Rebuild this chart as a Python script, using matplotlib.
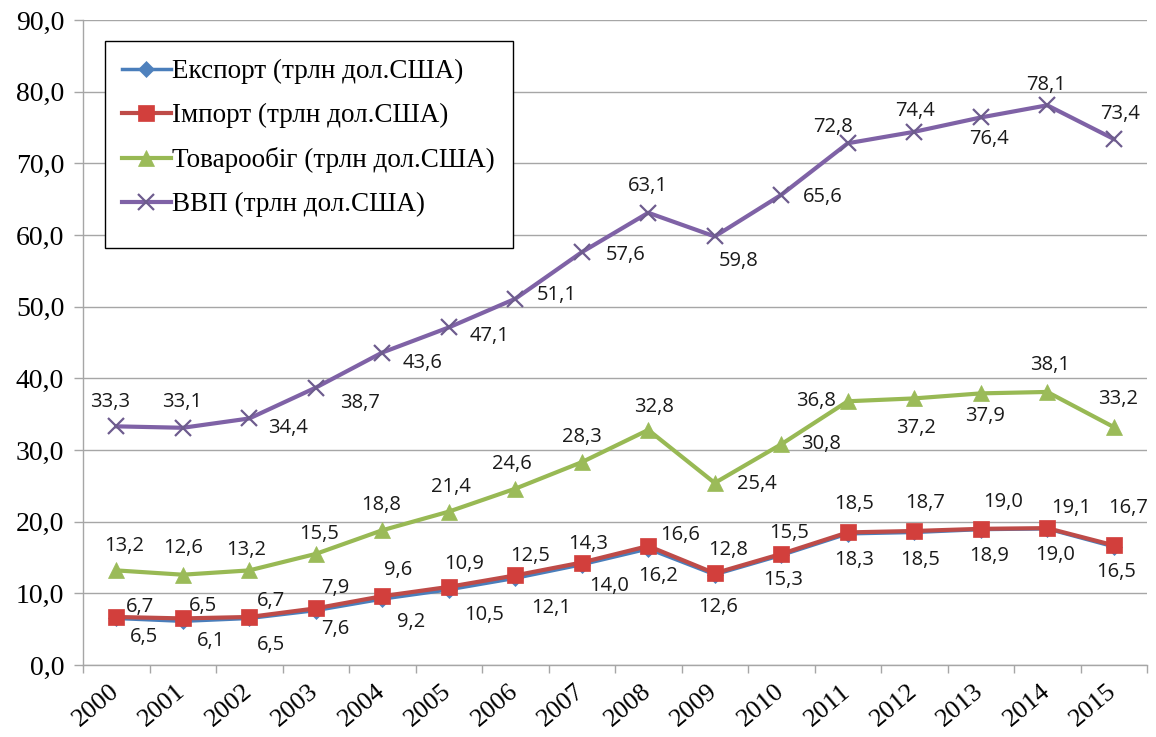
import matplotlib

matplotlib.use("Agg")

import matplotlib.pyplot as plt
from matplotlib.patches import Rectangle
from matplotlib.ticker import FuncFormatter, FixedLocator


YEARS = [str(y) for y in range(2000, 2016)]
EXPORT = [6.5, 6.1, 6.5, 7.6, 9.2, 10.5, 12.1, 14.0, 16.2, 12.6, 15.3, 18.3, 18.5, 18.9, 19.0, 16.5]
IMPORT = [6.7, 6.5, 6.7, 7.9, 9.6, 10.9, 12.5, 14.3, 16.6, 12.8, 15.5, 18.5, 18.7, 19.0, 19.1, 16.7]
TURNOVER = [13.2, 12.6, 13.2, 15.5, 18.8, 21.4, 24.6, 28.3, 32.8, 25.4, 30.8, 36.8, 37.2, 37.9, 38.1, 33.2]
GDP = [33.3, 33.1, 34.4, 38.7, 43.6, 47.1, 51.1, 57.6, 63.1, 59.8, 65.6, 72.8, 74.4, 76.4, 78.1, 73.4]

NAMES = [
    "Експорт (трлн дол.США)",
    "Імпорт (трлн дол.США)",
    "Товарообіг (трлн дол.США)",
    "ВВП (трлн дол.США)",
]

# data label offsets in pixels (dx right, dy down), as in the reference
EXPORT_OFF = [(28, 19), (28, 20), (22, 27), (20, 18), (29, 23), (35, 25), (36, 30), (27, 21),
              (10, 27), (3, 32), (2, 25), (6, 26), (6, 28), (8, 26), (8, 26), (2, 25)]
IMPORT_OFF = [(24, -10), (20, -12), (22, -16), (20, -20), (16, -26), (15, -23), (15, -19), (6, -19),
              (32, -11), (13, -23), (8, -21), (6, -28), (11, -28), (22, -27), (24, -20), (14, -37)]
TURNOVER_OFF = [(8, -24), (0, -27), (-3, -20), (3, -20), (-1, -25), (2, -25), (-3, -25), (0, -25),
                (6, -23), (42, 1), (40, 0), (-32, 0), (2, 30), (4, 23), (3, -27), (4, -28)]
GDP_OFF = [(-6, -24), (-1, -26), (39, 10), (44, 15), (40, 10), (41, 9), (42, -4), (44, 3),
           (0, -27), (24, 25), (42, 2), (-15, -16), (1, -21), (8, 22), (-1, -20), (6, -25)]


def comma(v):
    return f"{v:.1f}".replace(".", ",")


def main():
    plt.rcParams["font.family"] = ["Liberation Serif", "DejaVu Serif"]

    W, H = 1156, 737
    fig = plt.figure(figsize=(W / 100, H / 100), dpi=100)
    ax = fig.add_axes([83 / W, 1 - 665 / H, (1147 - 83) / W, 645 / H])

    x = list(range(len(YEARS)))
    series = [
        (EXPORT, EXPORT_OFF, "#4A7EBB", "#4F81BD", "D", 8, 2.5),
        (IMPORT, IMPORT_OFF, "#BE4B48", "#D23F3C", "s", 12, 3.0),
        (TURNOVER, TURNOVER_OFF, "#98B954", "#9BBB59", "^", 11, 3.0),
        (GDP, GDP_OFF, "#7F62A6", "#6E5C8E", "x", 11, 3.0),
    ]

    handles = []
    for (vals, offs, lc, mc, mk, ms, lw), name in zip(series, NAMES):
        kw = dict(marker=mk, markersize=ms, color=lc, lw=lw,
                  markerfacecolor=mc, markeredgecolor=mc)
        kw["markeredgewidth"] = 1.6 if mk == "x" else 0.5
        (h,) = ax.plot(x, vals, label=name, zorder=3, **kw)
        handles.append(h)
        for xi, v, (dx, dy) in zip(x, vals, offs):
            ax.annotate(comma(v), (xi, v), xytext=(dx, -dy), textcoords="offset pixels",
                        ha="center", va="center", fontsize=14.5, family="Open Sans",
                        color="#1a1a1a", zorder=5)

    ax.set_xlim(-0.5, len(YEARS) - 0.5)
    ax.set_ylim(0, 90)
    ax.set_yticks(range(0, 91, 10))
    ax.yaxis.set_major_formatter(FuncFormatter(lambda v, p: comma(v)))
    ax.yaxis.grid(True, color="#A6A6A6", lw=1.0)
    ax.set_axisbelow(True)

    for s in ("top", "right"):
        ax.spines[s].set_visible(False)
    for s in ("left", "bottom"):
        ax.spines[s].set_color("#A6A6A6")
        ax.spines[s].set_linewidth(1.0)

    ax.tick_params(axis="y", direction="out", length=6.5, width=1.0, color="#A6A6A6",
                   labelsize=20, pad=7)

    ax.set_xticks(x)
    ax.set_xticklabels(YEARS, rotation=40, ha="right", va="center",
                       rotation_mode="anchor", fontsize=19)
    ax.tick_params(axis="x", which="major", length=0, pad=17)
    ax.xaxis.set_minor_locator(FixedLocator([i - 0.5 for i in range(len(YEARS) + 1)]))
    ax.tick_params(axis="x", which="minor", direction="out", length=5.5, width=1.0,
                   color="#A6A6A6")

    # legend frame drawn by hand: the reference box has extra room below the last row
    ax.add_patch(Rectangle((105 / W, 1 - 248 / H), 408 / W, 207 / H,
                           transform=fig.transFigure, facecolor="white",
                           edgecolor="black", lw=1.0, zorder=4, clip_on=False))
    leg = ax.legend(handles=handles, loc="upper left",
                    bbox_to_anchor=(122 / W, 1 - 59 / H), bbox_transform=fig.transFigure,
                    prop={"size": 19.5}, frameon=False,
                    handlelength=1.8, handletextpad=0.05, labelspacing=0.7,
                    borderpad=0, borderaxespad=0)
    leg.set_zorder(6)

    fig.savefig("out.png", dpi=100)


if __name__ == "__main__":
    main()
